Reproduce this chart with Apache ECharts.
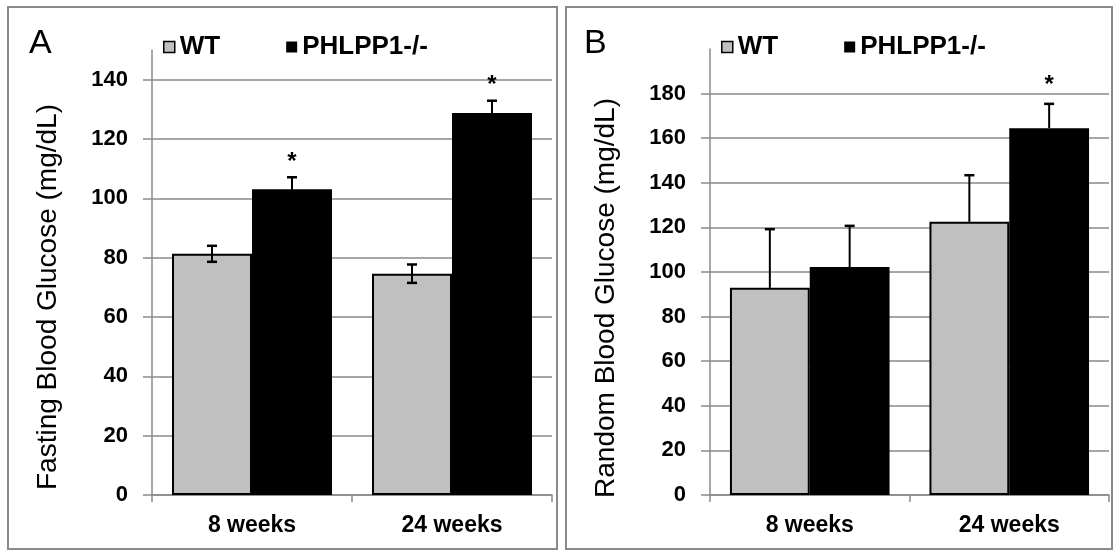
<!DOCTYPE html>
<html><head><meta charset="utf-8">
<script src="https://cdn.jsdelivr.net/npm/echarts@6/dist/echarts.min.js"></script>
<style>html,body{margin:0;padding:0;background:#fff}#c{width:1114px;height:552px}</style>
</head><body><div id="c"></div>
<script>
// ---- data ----
const categories = ['8 weeks', '24 weeks'];
const seriesNames = ['WT', 'PHLPP1-/-'];
const fastingWT = [81.3, 74.6];
const fastingWTErr = [2.7, 3.1];
const fastingKO = [103.1, 128.8];
const fastingKOErr = [4.0, 4.1];
const fastingKOSig = [true, true];
const randomWT = [92.9, 122.5];
const randomWTErr = [26.3, 20.9];
const randomKO = [102.2, 164.5];
const randomKOErr = [18.5, 10.9];
const randomKOSig = [false, true];
const fastingTicks = [0, 20, 40, 60, 80, 100, 120, 140];
const randomTicks = [0, 20, 40, 60, 80, 100, 120, 140, 160, 180];
const fastingTitle = 'Fasting Blood Glucose (mg/dL)';
const randomTitle = 'Random Blood Glucose (mg/dL)';
const panelLetters = ['A', 'B'];

const FF = '"Liberation Sans", Arial, sans-serif';
const GRID_COLOR = '#8a8a8a';

function errorSeries(gridIdx, means, errs, sigs, side, bothDirs, starGap) {
  return {
    type: 'custom', xAxisIndex: gridIdx, yAxisIndex: gridIdx, z: 5, clip: false, silent: true,
    data: means.map((m, i) => [i, m, errs[i], sigs && sigs[i] ? 1 : 0]),
    encode: { x: 0, y: 1 },
    renderItem(params, api) {
      const i = api.value(0), m = api.value(1), e = api.value(2), s = api.value(3);
      const base = api.coord([i, m]);
      const bw = api.size([1, 0])[0] * 0.8 / 2;
      const x = base[0] + side * bw / 2;
      const top = api.coord([i, m + e])[1];
      const bot = bothDirs ? api.coord([i, m - e])[1] : base[1];
      const cap = 5;
      const st = { stroke: '#000', lineWidth: 2 };
      const children = [
        { type: 'line', shape: { x1: x, y1: top, x2: x, y2: bot }, style: st },
        { type: 'line', shape: { x1: x - cap, y1: top, x2: x + cap, y2: top }, style: { stroke: '#000', lineWidth: 2.5 } }
      ];
      if (bothDirs) children.push({ type: 'line', shape: { x1: x - cap, y1: bot, x2: x + cap, y2: bot }, style: { stroke: '#000', lineWidth: 2.5 } });
      if (s) children.push({ type: 'text', style: { text: '*', x: x, y: top - starGap, textAlign: 'center', textVerticalAlign: 'middle', font: 'bold 24px ' + FF, fill: '#000' } });
      return { type: 'group', children };
    }
  };
}

function xAxis(gridIndex) {
  return {
    type: 'category', gridIndex, data: categories, boundaryGap: true,
    axisLine: { lineStyle: { color: GRID_COLOR, width: 1.5 } },
    axisTick: { show: true, interval: 0, length: 7, inside: false, lineStyle: { color: GRID_COLOR, width: 1.5 } },
    axisLabel: { interval: 0, margin: 19, color: '#000', fontSize: 23, fontWeight: 'bold', fontFamily: FF },
    splitLine: { show: false }
  };
}
function yAxis(gridIndex, max, ticks) {
  return {
    type: 'value', gridIndex, min: 0, max, interval: 20,
    axisLine: { show: true, lineStyle: { color: GRID_COLOR, width: 1.5 } },
    axisTick: { show: true, length: 9, lineStyle: { color: GRID_COLOR, width: 1.5 }, customValues: ticks },
    axisLabel: { margin: 24, color: '#000', fontSize: 22, fontWeight: 'bold', fontFamily: FF, customValues: ticks },
    splitLine: { show: true, lineStyle: { color: GRID_COLOR, width: 1.5 } }
  };
}

const legendCommon = {
  top: 29, itemWidth: 11, itemHeight: 11, itemGap: 66, icon: 'rect',
  textStyle: { fontSize: 26, fontWeight: 'bold', color: '#000', fontFamily: FF, lineHeight: 26 },
  data: [{ name: seriesNames[0], itemStyle: { borderWidth: 1.5 } }, seriesNames[1]],
  selectedMode: false
};

const barWT = { color: '#c0c0c0', borderColor: '#000', borderWidth: 2 };
const barKO = { color: '#000000' };

const option = {
  backgroundColor: '#ffffff',
  animation: false,
  grid: [
    { left: 152, right: 1114 - 552, top: 50, bottom: 552 - 495 },
    { left: 710, right: 1114 - 1109, top: 49, bottom: 552 - 495 }
  ],
  legend: [
    Object.assign({}, legendCommon, { left: 158 }),
    Object.assign({}, legendCommon, { left: 716 })
  ],
  xAxis: [xAxis(0), xAxis(1)],
  yAxis: [yAxis(0, 150, fastingTicks), yAxis(1, 200, randomTicks)],
  series: [
    { type: 'bar', name: seriesNames[0], xAxisIndex: 0, yAxisIndex: 0, data: fastingWT, barGap: '0%', barCategoryGap: '20%', itemStyle: barWT },
    { type: 'bar', name: seriesNames[1], xAxisIndex: 0, yAxisIndex: 0, data: fastingKO, barGap: '0%', barCategoryGap: '20%', itemStyle: barKO },
    { type: 'bar', name: seriesNames[0], xAxisIndex: 1, yAxisIndex: 1, data: randomWT, barGap: '0%', barCategoryGap: '20%', itemStyle: barWT },
    { type: 'bar', name: seriesNames[1], xAxisIndex: 1, yAxisIndex: 1, data: randomKO, barGap: '0%', barCategoryGap: '20%', itemStyle: barKO },
    errorSeries(0, fastingWT, fastingWTErr, null, -1, true, 15),
    errorSeries(0, fastingKO, fastingKOErr, fastingKOSig, 1, true, 15),
    errorSeries(1, randomWT, randomWTErr, null, -1, false, 18),
    errorSeries(1, randomKO, randomKOErr, randomKOSig, 1, false, 18)
  ],
  graphic: [
    { type: 'rect', shape: { x: 8, y: 7, width: 549, height: 542 }, style: { fill: 'none', stroke: '#8a8a8a', lineWidth: 2 }, z: -1 },
    { type: 'rect', shape: { x: 566, y: 7, width: 546, height: 542 }, style: { fill: 'none', stroke: '#8a8a8a', lineWidth: 2 }, z: -1 },
    { type: 'text', x: 29, y: 27, style: { text: panelLetters[0], font: '34px ' + FF, fill: '#000' } },
    { type: 'text', x: 584, y: 27, style: { text: panelLetters[1], font: '34px ' + FF, fill: '#000' } },
    { type: 'text', x: 48, y: 297, rotation: Math.PI / 2, style: { text: fastingTitle, font: '28px ' + FF, fill: '#000', textAlign: 'center', textVerticalAlign: 'middle' } },
    { type: 'text', x: 606, y: 298, rotation: Math.PI / 2, style: { text: randomTitle, font: '28px ' + FF, fill: '#000', textAlign: 'center', textVerticalAlign: 'middle' } }
  ]
};

const chart = echarts.init(document.getElementById('c'), null, { renderer: 'canvas' });
chart.setOption(option);
</script>
</body></html>
